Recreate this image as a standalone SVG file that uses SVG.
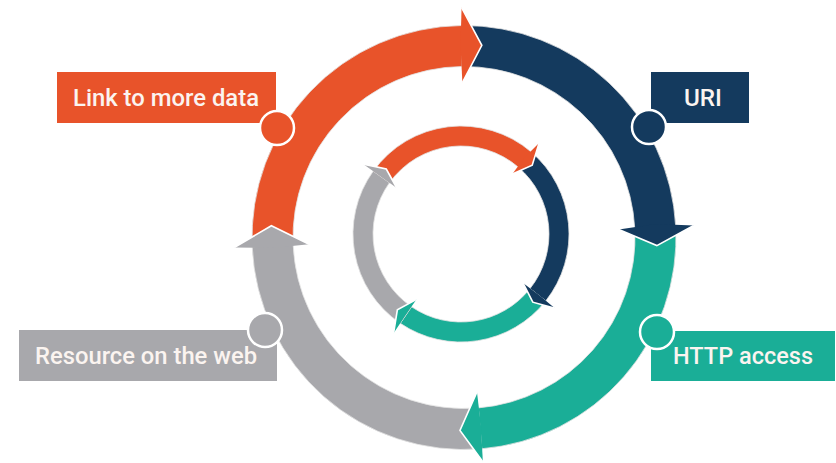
<svg xmlns="http://www.w3.org/2000/svg" width="836" height="463" viewBox="0 0 836 463">
<style>
.o{fill:#e8532a}.n{fill:#143a5e}.t{fill:#1aae97}.g{fill:#a8a8ac}
.band{stroke:#e2e2e2;stroke-width:0.8}
.edge{fill:none;stroke:#ffffff;stroke-width:1.6;stroke-linejoin:miter}
.dot{stroke:#ffffff;stroke-width:2.5}
.lbl{font-family:Roboto,"Liberation Sans",sans-serif;font-size:23px;font-weight:500;fill:#fbf4f0;text-anchor:middle}
</style>
<rect width="836" height="463" fill="#ffffff"/>
<g id="connectors">
  <g id="outer-ring">
    <path class="o band" d="M 252.20 246.75 A 212 212 0 0 1 461.78 25.51 L 462.21 66.51 A 171 171 0 0 0 293.16 244.96 Z"/>
    <path class="n band" d="M 461.78 25.51 A 212 212 0 0 1 675.71 226.40 L 634.77 228.55 A 171 171 0 0 0 462.21 66.51 Z"/>
    <path class="t band" d="M 675.71 226.40 A 212 212 0 0 1 481.74 448.76 L 478.31 407.90 A 171 171 0 0 0 634.77 228.55 Z"/>
    <path class="g band" d="M 481.74 448.76 A 212 212 0 0 1 252.20 246.75 L 293.16 244.96 A 171 171 0 0 0 478.31 407.90 Z"/>
    <polygon class="o" points="461.59,7.51 481.83,45.33 462.38,82.51 460.5,45"/>
    <polyline class="edge" points="461.59,7.51 481.83,45.33 462.38,82.51"/>
    <polygon class="n" points="693.68,225.46 656.83,245.58 618.79,229.39 656,224"/>
    <polyline class="edge" points="693.68,225.46 656.83,245.58 618.79,229.39"/>
    <polygon class="t" points="482.83,461.71 459.96,430.46 476.97,391.96 481,426"/>
    <polyline class="edge" points="482.83,461.71 459.96,430.46 476.97,391.96"/>
    <polygon class="g" points="234.22,247.53 271.36,225.72 309.15,244.26 272,248"/>
    <polyline class="edge" points="234.22,247.53 271.36,225.72 309.15,244.26"/>
  </g>
  <g id="inner-ring">
    <path class="o band" d="M 373.19 171.13 A 108 108 0 0 1 531.29 152.00 L 518.27 167.18 A 88 88 0 0 0 389.45 182.78 Z"/>
    <path class="n band" d="M 531.29 152.00 A 108 108 0 0 1 545.75 300.94 L 530.05 288.54 A 88 88 0 0 0 518.27 167.18 Z"/>
    <path class="t band" d="M 545.75 300.94 A 108 108 0 0 1 400.29 323.33 L 411.54 306.78 A 88 88 0 0 0 530.05 288.54 Z"/>
    <path class="g band" d="M 400.29 323.33 A 108 108 0 0 1 373.19 171.13 L 389.45 182.78 A 88 88 0 0 0 411.54 306.78 Z"/>
    <polygon class="o" points="539.10,142.88 532.21,165.22 512.41,174.02 524,158"/>
    <polyline class="edge" points="539.10,142.88 532.21,165.22 512.41,174.02"/>
    <polygon class="n" points="555.16,308.38 532.81,302.15 522.99,282.96 539,295"/>
    <polyline class="edge" points="555.16,308.38 532.81,302.15 522.99,282.96"/>
    <polygon class="t" points="393.55,333.25 397.36,309.83 416.59,299.34 405,316"/>
    <polyline class="edge" points="393.55,333.25 397.36,309.83 416.59,299.34"/>
    <polygon class="g" points="363.43,164.15 386.28,169.05 396.77,188.01 380,176"/>
    <polyline class="edge" points="363.43,164.15 386.28,169.05 396.77,188.01"/>
  </g>
</g>
<g id="node-link">
  <rect class="o" x="57" y="72" width="219" height="51"/>
  <text class="lbl" x="166" y="106" textLength="186" lengthAdjust="spacingAndGlyphs">Link to more data</text>
  <circle class="o dot" cx="277" cy="128" r="17"/>
</g>
<g id="node-uri">
  <rect class="n" x="651" y="72" width="98" height="51"/>
  <text class="lbl" x="703" y="106" textLength="38" lengthAdjust="spacingAndGlyphs">URI</text>
  <circle class="n dot" cx="649" cy="127" r="17"/>
</g>
<g id="node-http">
  <rect class="t" x="651" y="331" width="184" height="50"/>
  <text class="lbl" x="743" y="364" textLength="140" lengthAdjust="spacingAndGlyphs">HTTP access</text>
  <circle class="t dot" cx="657" cy="332" r="17"/>
</g>
<g id="node-resource">
  <rect class="g" x="19" y="330" width="258" height="51"/>
  <text class="lbl" x="146" y="364" textLength="222" lengthAdjust="spacingAndGlyphs">Resource on the web</text>
  <circle class="g dot" cx="265" cy="330" r="17"/>
</g>
</svg>
